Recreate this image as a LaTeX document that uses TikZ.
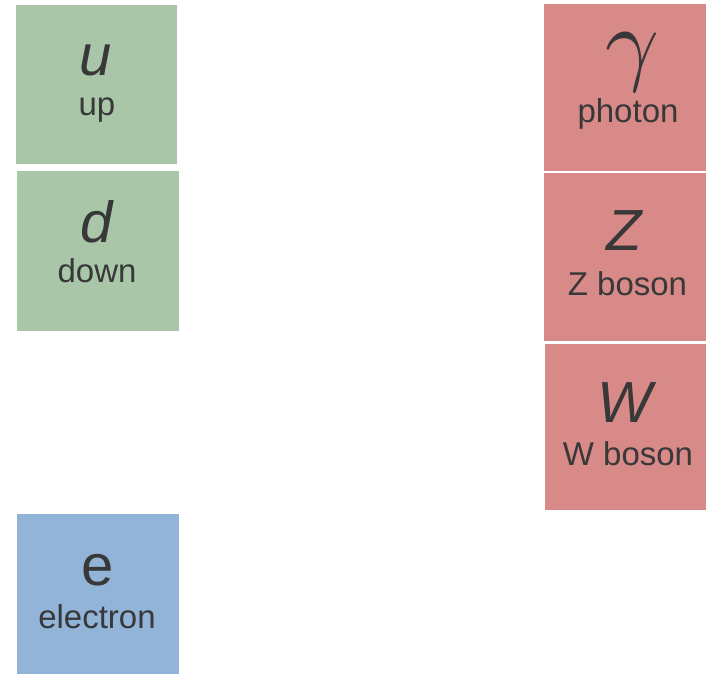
\documentclass[tikz,border=0pt]{standalone}
\usepackage{fontspec}
\setmainfont{Liberation Sans}
\definecolor{qgreen}{HTML}{A9C7A8}
\definecolor{bred}{HTML}{D88A89}
\definecolor{lblue}{HTML}{92B4D9}
\definecolor{ink}{HTML}{383838}
\tikzset{
  cell/.style={draw=none, inner sep=0pt, anchor=north west, minimum width=#1},
  big/.style={anchor=base, text=ink, font=\fontsize{58}{60}\selectfont, inner sep=0pt},
  lbl/.style={anchor=base, text=ink, font=\fontsize{33}{35}\selectfont, inner sep=0pt}
}
\begin{document}
\begin{tikzpicture}[x=1pt,y=-1pt]
\fill[white] (0,0) rectangle (706,673);
\useasboundingbox (0,0) rectangle (706,673);
% quarks
\node[cell=161pt, minimum height=159pt, fill=qgreen] (u) at (16,5) {};
\node[big] (usym) at (96,75) {\textit{u}};
\node[lbl] (ulbl) at (97,115) {up};
\node[cell=162pt, minimum height=160pt, fill=qgreen] (d) at (17,171) {};
\node[big] (dsym) at (97,242) {\textit{d}};
\node[lbl] (dlbl) at (97,282) {down};
% lepton
\node[cell=162pt, minimum height=160pt, fill=lblue] (e) at (17,514) {};
\node[big] (esym) at (98,585) {e};
\node[lbl] (elbl) at (97,628) {electron};
% bosons
\node[cell=162pt, minimum height=167pt, fill=bred] (g) at (544,4) {};
\node[anchor=base, text=ink, inner sep=0pt] (gsym) at (632,73) {\scalebox{9.4}{$\gamma$}};
\node[lbl] (glbl) at (628,122) {photon};
\node[cell=162pt, minimum height=168pt, fill=bred] (z) at (544,173) {};
\node[big] (zsym) at (625,250) {\textit{Z}};
\node[lbl] (zlbl) at (627.5,295) {Z boson};
\node[cell=161pt, minimum height=166pt, fill=bred] (w) at (545,344) {};
\node[big] (wsym) at (627,422) {\textit{W}};
\node[lbl] (wlbl) at (628,465) {W boson};
\end{tikzpicture}
\end{document}
